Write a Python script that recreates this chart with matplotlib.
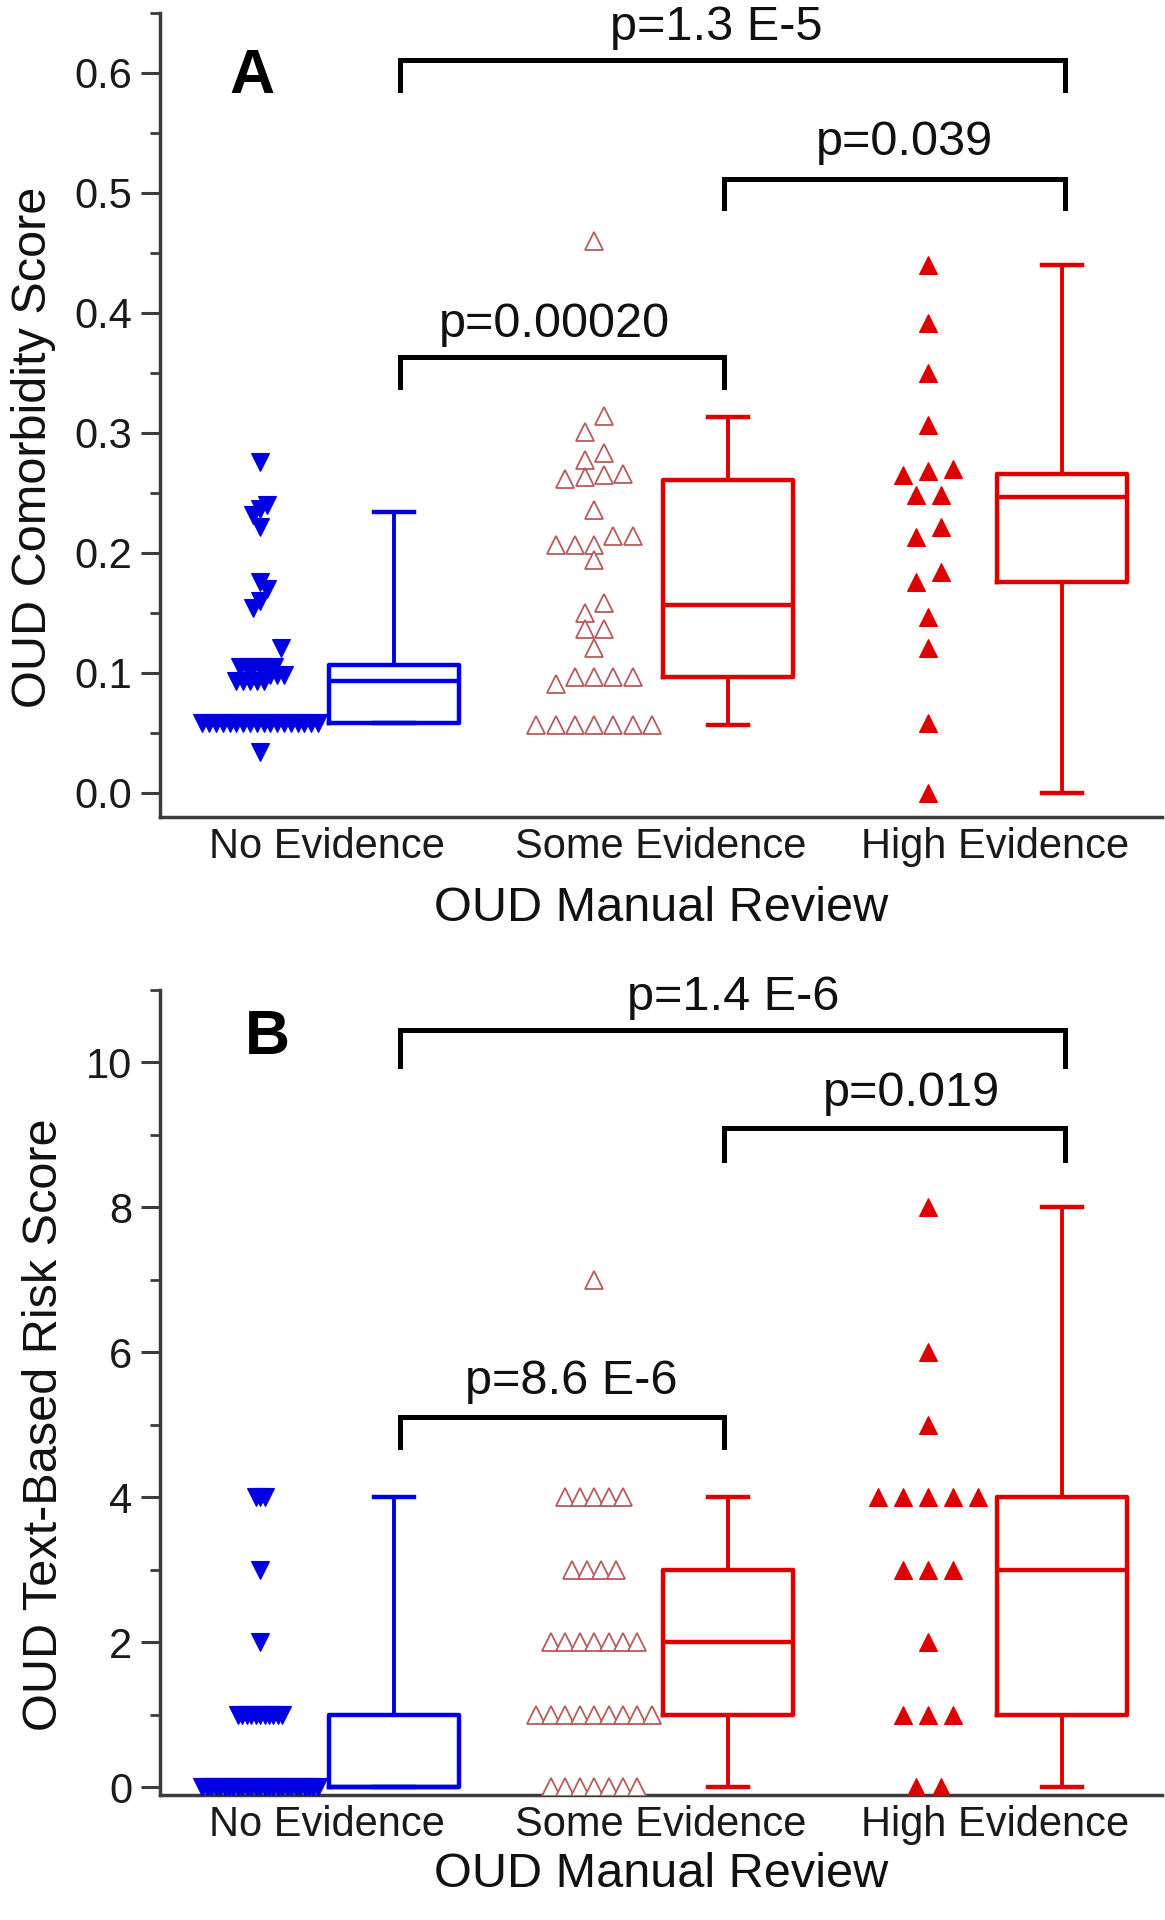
import numpy as np
import matplotlib
matplotlib.use('Agg')
import matplotlib.pyplot as plt

plt.rcParams['font.family'] = ['Liberation Sans', 'DejaVu Sans']

categories = ['No Evidence', 'Some Evidence', 'High Evidence']

# Panel A: OUD comorbidity score, one list per review group
comorb_none = [0.276, 0.240, 0.237, 0.232, 0.222, 0.176, 0.170, 0.160, 0.154, 0.121,
               0.105, 0.105, 0.105, 0.105, 0.105, 0.105, 0.098, 0.098, 0.098,
               0.093, 0.093, 0.093, 0.093, 0.093,
               0.058, 0.058, 0.058, 0.058, 0.058, 0.058, 0.058, 0.058, 0.058,
               0.058, 0.058, 0.058, 0.058, 0.058, 0.058, 0.058, 0.058, 0.058,
               0.034]
comorb_some = [0.46, 0.314, 0.3005, 0.283, 0.2775, 0.266, 0.262, 0.265, 0.263, 0.236,
               0.207, 0.214, 0.207, 0.214, 0.207, 0.194, 0.158, 0.150, 0.137, 0.137,
               0.121, 0.0967, 0.0967, 0.0967, 0.0967, 0.091,
               0.0566, 0.0566, 0.0566, 0.0566, 0.0566, 0.0566, 0.0566]
comorb_high = [0.44, 0.392, 0.35, 0.307, 0.268, 0.27, 0.265, 0.248, 0.248, 0.222,
               0.213, 0.184, 0.176, 0.147, 0.121, 0.058, 0.0]

# box statistics as drawn (whisker low, Q1, median, Q3, whisker high)
comorb_whislo = [0.058, 0.057, 0.0]
comorb_q1 = [0.058, 0.097, 0.176]
comorb_med = [0.093, 0.157, 0.247]
comorb_q3 = [0.107, 0.261, 0.266]
comorb_whishi = [0.234, 0.313, 0.44]

# Panel B: OUD text-based risk score
risk_none = [4, 4, 4, 3, 2,
             1, 1, 1, 1, 1, 1, 1, 1, 1, 1, 1,
             0, 0, 0, 0, 0, 0, 0, 0, 0, 0, 0, 0, 0, 0, 0, 0, 0, 0, 0, 0,
             0, 0, 0, 0, 0, 0, 0]
risk_some = [7, 4, 4, 4, 4, 4, 3, 3, 3, 3, 2, 2, 2, 2, 2, 2, 2,
             1, 1, 1, 1, 1, 1, 1, 1, 1, 0, 0, 0, 0, 0, 0, 0]
risk_high = [8, 6, 5, 4, 4, 4, 4, 4, 3, 3, 3, 2, 1, 1, 1, 0, 0]

risk_whislo = [0, 0, 0]
risk_q1 = [0, 1, 1]
risk_med = [0, 2, 3]
risk_q3 = [1, 3, 4]
risk_whishi = [4, 4, 8]

comorb_pvals = ['p=1.3 E-5', 'p=0.039', 'p=0.00020']
risk_pvals = ['p=1.4 E-6', 'p=0.019', 'p=8.6 E-6']
pairs = [(0, 2), (1, 2), (0, 1)]

BLUE = '#0000e0'
RED = '#dc0000'
ROSE = '#b65c5c'
AXC = '#3c3c3c'


def swarm_x(vals, center, binw, max_sp=0.075, span=0.346):
    vals = np.asarray(vals, dtype=float)
    bins = np.floor(vals / binw + 1e-9).astype(int)
    counts = np.bincount(bins - bins.min())
    maxc = counts.max()
    sp = max_sp if maxc < 2 else min(max_sp, span / (maxc - 1))
    xs = np.empty(len(vals))
    for b in np.unique(bins):
        idx = np.where(bins == b)[0]
        idx = idx[np.argsort(vals[idx], kind='stable')]
        n = len(idx)
        xs[idx] = center + (np.arange(n) - (n - 1) / 2) * sp
    return xs


def draw_panel(ax, groups, stats, binw, ylim, majors, minors, fmt, ylabel,
               letter, letter_xy, brk_y, brk_drop, txt_xy, pvals):
    styles = [dict(marker='v', mfc=BLUE, mec=BLUE, mew=0.8),
              dict(marker='^', mfc='white', mec=ROSE, mew=1.3),
              dict(marker='^', mfc=RED, mec=RED, mew=0.8)]
    box_cols = [BLUE, RED, RED]
    for i, vals in enumerate(groups):
        c = i + 1
        xs = swarm_x(vals, c - 0.2, binw)
        ax.plot(xs, vals, ls='none', ms=13, zorder=3, **styles[i])
        st = dict(whislo=stats[0][i], q1=stats[1][i], med=stats[2][i],
                  q3=stats[3][i], whishi=stats[4][i], fliers=[])
        col = box_cols[i]
        ax.bxp([st], positions=[c + 0.2], widths=0.39, capwidths=[0.12],
               showfliers=False, manage_ticks=False,
               boxprops=dict(color=col, lw=3.2),
               whiskerprops=dict(color=col, lw=2.8),
               capprops=dict(color=col, lw=3.2),
               medianprops=dict(color=col, lw=3.2))

    # significance brackets between box centres
    bx = [1.22, 2.19, 3.21]
    for (a, b), y, yd, (tx, ty), lab in zip(pairs, brk_y, brk_drop, txt_xy, pvals):
        ax.plot([bx[a], bx[a], bx[b], bx[b]], [yd, y, y, yd], color='black',
                lw=3.6, solid_joinstyle='miter', zorder=4)
        ax.text(tx, ty, lab, ha='center', va='baseline', fontsize=35, color='#111111')

    ax.text(letter_xy[0], letter_xy[1], letter, ha='center', va='baseline',
            fontsize=45, fontweight='bold')

    ax.set_xlim(0.5, 3.5)
    ax.set_ylim(*ylim)
    ax.set_xticks([1, 2, 3])
    ax.set_xticklabels(categories)
    ax.set_yticks(majors)
    ax.set_yticklabels([fmt.format(v) for v in majors])
    ax.set_yticks(minors, minor=True)
    ax.tick_params(axis='x', length=0, pad=7.5, labelsize=30, labelcolor='#1a1a1a')
    ax.tick_params(axis='y', which='major', length=13.5, width=2.2, color=AXC,
                   pad=6.5, labelsize=30, labelcolor='#1a1a1a')
    ax.tick_params(axis='y', which='minor', length=7, width=2.0, color=AXC)
    for s in ['top', 'right']:
        ax.spines[s].set_visible(False)
    for s in ['left', 'bottom']:
        ax.spines[s].set_color(AXC)
        ax.spines[s].set_linewidth(2.5)
    ax.set_ylabel(ylabel, fontsize=35, color='#111111')
    ax.set_xlabel('OUD Manual Review', fontsize=35, color='#111111')


fig = plt.figure(figsize=(11.65, 19.2), dpi=100)
axA = fig.add_axes([0.1373, 0.5745, 0.8601, 0.41875])
axB = fig.add_axes([0.1373, 0.0651, 0.8601, 0.4193])

draw_panel(axA, [comorb_none, comorb_some, comorb_high],
           [comorb_whislo, comorb_q1, comorb_med, comorb_q3, comorb_whishi],
           0.025, (-0.02, 0.65), np.arange(0, 0.61, 0.1), np.arange(0.05, 0.66, 0.1),
           '{:.1f}', 'OUD Comorbidity Score', 'A', (0.775, 0.583),
           [0.611, 0.512, 0.363], [0.586, 0.4875, 0.338],
           [(2.165, 0.6275), (2.73, 0.532), (1.68, 0.38)], comorb_pvals)

draw_panel(axB, [risk_none, risk_some, risk_high],
           [risk_whislo, risk_q1, risk_med, risk_q3, risk_whishi],
           1.0, (-0.11, 11), np.arange(0, 11, 2), np.arange(1, 12, 2),
           '{:.0f}', 'OUD Text-Based Risk Score', 'B', (0.823, 10.11),
           [10.45, 9.1, 5.1], [9.95, 8.66, 4.69],
           [(2.215, 10.73), (2.75, 9.4), (1.73, 5.43)], risk_pvals)

axA.yaxis.set_label_coords(-0.104, 0.46)
axB.yaxis.set_label_coords(-0.093, 0.46)
axA.xaxis.set_label_coords(0.5, -0.086)
axB.xaxis.set_label_coords(0.5, -0.071)

fig.savefig('out.png', dpi=100, facecolor='white')
